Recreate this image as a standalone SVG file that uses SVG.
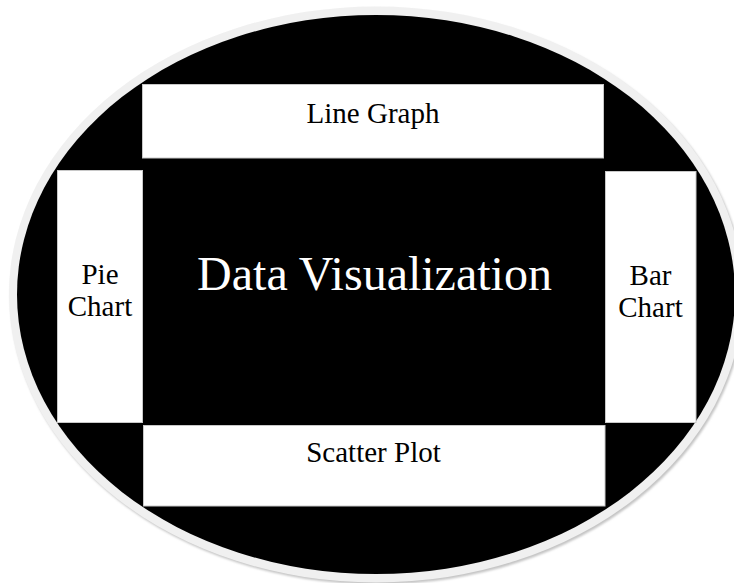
<svg xmlns="http://www.w3.org/2000/svg" width="734" height="583" viewBox="0 0 734 583">
  <defs>
    <filter id="soft" x="-5%" y="-5%" width="110%" height="110%">
      <feGaussianBlur stdDeviation="1"/>
    </filter>
    <style>
      .box { fill: #ffffff; stroke: #c8c8c8; stroke-width: 1; }
      .lbl { font-family: "Liberation Serif", "Times New Roman", serif; font-size: 29px; fill: #000000; text-anchor: middle; }
      .center { font-family: "Liberation Serif", "Times New Roman", serif; font-size: 48px; fill: #ffffff; text-anchor: middle; }
    </style>
  </defs>
  <rect x="0" y="0" width="734" height="583" fill="#ffffff"/>
  <g id="background">
    <ellipse cx="377.5" cy="296.5" rx="367" ry="288" fill="#c4c4c4" filter="url(#soft)"/>
    <ellipse cx="376" cy="294.5" rx="367" ry="288" fill="#f0f0f0"/>
    <ellipse cx="376" cy="294.5" rx="359" ry="279.5" fill="#000000"/>
  </g>
  <g id="data-visualization">
    <rect x="142" y="158" width="463" height="267" fill="#000000"/>
    <text class="center" x="374.5" y="290">Data Visualization</text>
  </g>
  <g id="line-graph">
    <rect class="box" x="142.5" y="84.5" width="461" height="73.5"/>
    <text class="lbl" x="373" y="123">Line Graph</text>
  </g>
  <g id="pie-chart">
    <rect class="box" x="57.5" y="170.5" width="85" height="252"/>
    <text class="lbl" x="100" y="284">Pie</text>
    <text class="lbl" x="100" y="316">Chart</text>
  </g>
  <g id="bar-chart">
    <rect class="box" x="605.5" y="171.5" width="90.5" height="251"/>
    <text class="lbl" x="650.5" y="285">Bar</text>
    <text class="lbl" x="650.5" y="317">Chart</text>
  </g>
  <g id="scatter-plot">
    <rect class="box" x="143.5" y="425.5" width="461.5" height="80.5"/>
    <text class="lbl" x="373.5" y="462">Scatter Plot</text>
  </g>
  <g id="connectors"></g>
</svg>
